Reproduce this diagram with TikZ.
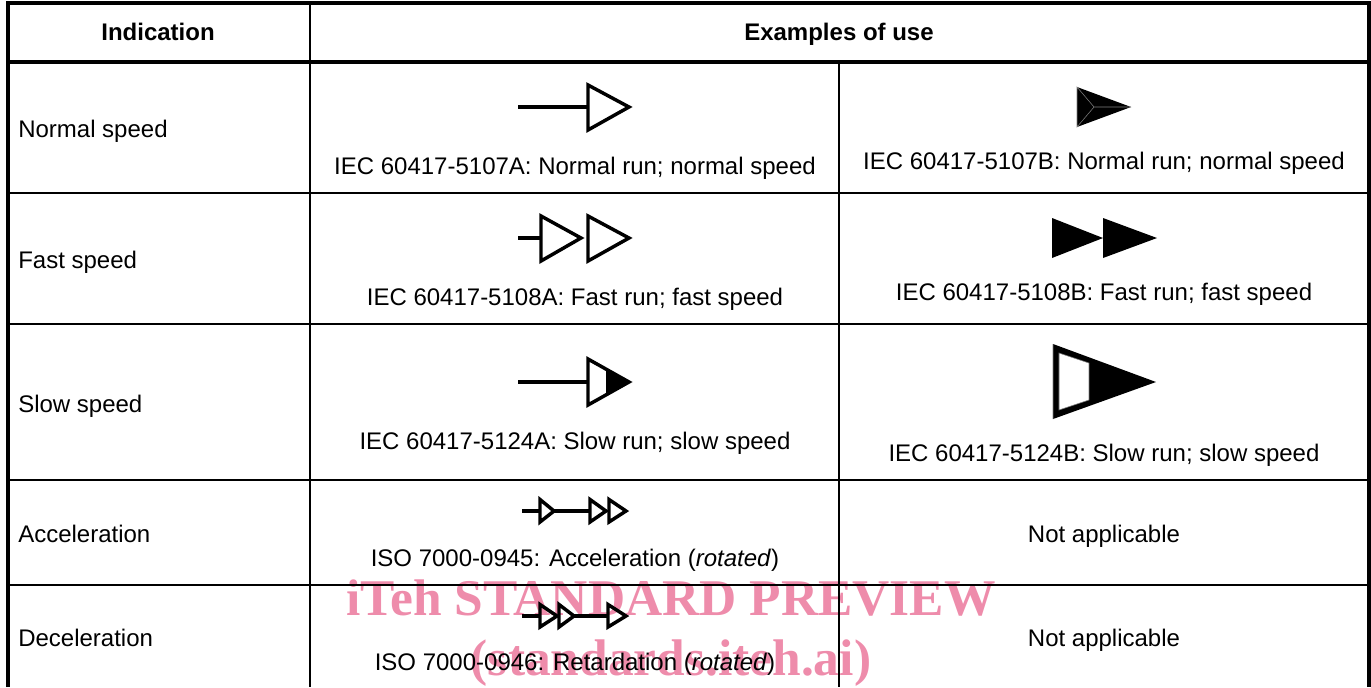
\documentclass[tikz,border=0pt]{standalone}
\usepackage{fontspec}
\setmainfont{Liberation Sans}
\newfontfamily\stampfont{Liberation Serif}
\definecolor{stamppink}{HTML}{EE8CAB}

\begin{document}
\begin{tikzpicture}[x=0.75pt,y=-0.75pt,
                cell/.style={font=\fontsize{18}{20}\selectfont,inner sep=0pt,anchor=base},
                left cell/.style={cell,anchor=base west},
                head/.style={cell,font=\fontsize{18}{20}\selectfont\bfseries},
                rule/.style={line width=1.8pt},
                frame/.style={line width=3pt},
                sym/.style={line width=2.6pt,line join=miter},
                solid sym/.style={fill=black,draw=none},
                seam/.style={draw=gray,line width=0.4pt},
                stamp/.style={font=\fontsize{38.6}{40}\selectfont\stampfont\bfseries,text=stamppink,inner sep=0pt,anchor=base}]
  \useasboundingbox (0,0) rectangle (1371,687);

  % table
  \draw[frame] (8,687) -- (8,2.5) -- (1369,2.5) -- (1369,687);
  \draw[frame] (8,61.5) -- (1369,61.5);
  \draw[rule] (310,2) -- (310,687);
  \draw[rule] (839,61) -- (839,687);
  \draw[rule] (8,193) -- (1369,193);
  \draw[rule] (8,324) -- (1369,324);
  \draw[rule] (8,480) -- (1369,480);
  \draw[rule] (8,585) -- (1369,585);

  % header and first column
  \node[head] (indication) at (158,40) {Indication};
  \node[head] (examples) at (839,40) {Examples of use};
  \node[left cell] (normal) at (18,137) {Normal speed};
  \node[left cell] (fast) at (18,268) {Fast speed};
  \node[left cell] (slow) at (18,412) {Slow speed};
  \node[left cell] (accel) at (18,542) {Acceleration};
  \node[left cell] (decel) at (18,646) {Deceleration};

  % captions
  \node[cell] (normal a) at (575,174) {IEC 60417-5107A: Normal run; normal speed};
  \node[cell] (normal b) at (1104,169) {IEC 60417-5107B: Normal run; normal speed};
  \node[cell] (fast a) at (575,305) {IEC 60417-5108A: Fast run; fast speed};
  \node[cell] (fast b) at (1104,300) {IEC 60417-5108B: Fast run; fast speed};
  \node[cell] (slow a) at (575,449) {IEC 60417-5124A: Slow run; slow speed};
  \node[cell] (slow b) at (1104,461) {IEC 60417-5124B: Slow run; slow speed};
  \node[cell] (accel a) at (575,566) {ISO 7000-0945: Acceleration (\textit{rotated})};
  \node[cell] (accel b) at (1104,542) {Not applicable};
  \node[cell] (decel a) at (575,670) {ISO 7000-0946: Retardation (\textit{rotated})};
  \node[cell] (decel b) at (1104,646) {Not applicable};

  % normal speed
  \draw[sym] (518,107) -- (588,107);
  \draw[sym] (588,85) -- (629,107) -- (588,130) -- cycle;
  \fill[solid sym] (1077,87) -- (1131,107) -- (1077,127) -- cycle;
  \draw[seam] (1077,87) -- (1094,107) -- (1077,127) -- cycle (1094,107) -- (1131,107);

  % fast speed
  \draw[sym] (518,238) -- (541,238);
  \draw[sym] (541,216) -- (581,238) -- (541,261) -- cycle;
  \draw[sym] (588,216) -- (629,238) -- (588,261) -- cycle;
  \fill[solid sym] (1052,218) -- (1103,238) -- (1052,258) -- cycle;
  \fill[solid sym] (1103,218) -- (1157,238) -- (1103,258) -- cycle;

  % slow speed
  \draw[sym] (518,382) -- (588,382);
  \fill[solid sym] (606,369) -- (629,382) -- (606,395) -- cycle;
  \draw[sym] (588,359) -- (629,382) -- (588,405) -- cycle;
  \fill[solid sym,even odd rule] (1053,344) -- (1156,382) -- (1053,419) -- cycle
    (1059,353) -- (1089,363) -- (1089,400) -- (1059,410) -- cycle;
  \draw[seam] (1053,344) -- (1053,419) (1059,353) -- (1089,363) -- (1089,400) -- (1059,410) -- cycle;

  % acceleration
  \draw[sym] (522,511) -- (540,511);
  \draw[sym] (540,499.5) -- (554,511) -- (540,522) -- cycle;
  \draw[sym] (554,511) -- (590,511);
  \draw[sym] (590,499.5) -- (606,511) -- (590,522) -- cycle;
  \draw[sym] (609,499.5) -- (626,511) -- (609,522) -- cycle;

  % deceleration
  \draw[sym] (522,616) -- (540,616);
  \draw[sym] (540,604.5) -- (557,616) -- (540,627) -- cycle;
  \draw[sym] (559,604.5) -- (574,616) -- (559,627) -- cycle;
  \draw[sym] (574,616) -- (608,616);
  \draw[sym] (608,604.5) -- (626,616) -- (608,627) -- cycle;

  % overprint
  \begin{scope}[blend mode=multiply]
    \node[stamp] (preview) at (671,615) {iTeh STANDARD PREVIEW};
    \node[stamp] (site) at (671,675) {(standards.iteh.ai)};
  \end{scope}
\end{tikzpicture}
\end{document}
